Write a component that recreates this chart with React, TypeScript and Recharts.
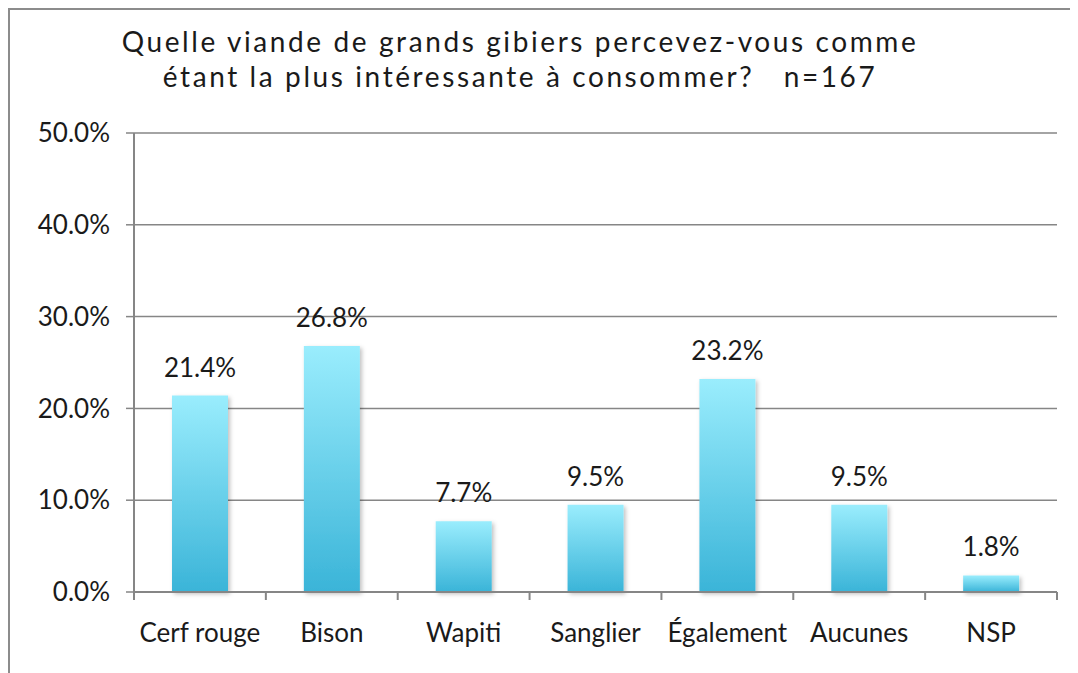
import React from "react";
import { BarChart, Bar, XAxis, YAxis, CartesianGrid, LabelList } from "recharts";

const categories = ["Cerf rouge", "Bison", "Wapiti", "Sanglier", "Également", "Aucunes", "NSP"];
const values = [21.4, 26.8, 7.7, 9.5, 23.2, 9.5, 1.8];
const yTicks = [0, 10, 20, 30, 40, 50];
const titleLines = [
  "Quelle viande de grands gibiers percevez-vous comme",
  "étant la plus intéressante à consommer?   n=167",
];

const data = categories.map((name, i) => ({ name, value: values[i] }));

const FONT = "Lato, 'Open Sans', sans-serif";
const GRID = "#868686";
const TEXT = "#1a1a1a";
const pct = (v: number) => `${Number(v).toFixed(1)}%`;

function CatTick(props: any) {
  const { x, y, payload, index } = props;
  const half = payload.offset ?? 0;
  const axisY = y - 32;
  return (
    <g>
      <line x1={x - half} x2={x - half} y1={axisY} y2={axisY + 8} stroke={GRID} strokeWidth={2} />
      {index === categories.length - 1 && (
        <line x1={x + half} x2={x + half} y1={axisY} y2={axisY + 8} stroke={GRID} strokeWidth={2} />
      )}
      <text x={x} y={y} dy="0.7em" textAnchor="middle" fontSize={26} fill={TEXT} fontFamily={FONT}>
        {payload.value}
      </text>
    </g>
  );
}

export default function App() {
  return (
    <div
      style={{
        position: "relative",
        width: 1070,
        height: 665,
        borderLeft: "2px solid #8c8c8c",
        borderTop: "2px solid #8c8c8c",
        boxSizing: "border-box",
        overflow: "hidden",
        background: "#fff",
        fontFamily: FONT,
      }}
    >
      <div
        style={{
          position: "absolute",
          left: 0,
          top: 14,
          width: 1020,
          textAlign: "center",
          fontSize: 28,
          letterSpacing: 2.6,
          lineHeight: "35px",
          color: TEXT,
          whiteSpace: "pre",
        }}
      >
        {titleLines.map((t) => (
          <div key={t}>{t}</div>
        ))}
      </div>
      <BarChart
        width={1068}
        height={663}
        data={data}
        margin={{ top: 123, right: 21, left: 0, bottom: 21 }}
        barCategoryGap={38}
      >
        <defs>
          <linearGradient id="barGrad" x1="0" y1="0" x2="0" y2="1">
            <stop offset="0%" stopColor="#9aedfd" />
            <stop offset="100%" stopColor="#3ab4d8" />
          </linearGradient>
          <filter id="barShadow" x="-20%" y="-20%" width="150%" height="150%">
            <feDropShadow dx="2" dy="2" stdDeviation="2" floodColor="#000" floodOpacity="0.25" />
          </filter>
        </defs>
        <CartesianGrid vertical={false} stroke={GRID} strokeWidth={1.5} />
        <XAxis
          dataKey="name"
          axisLine={{ stroke: GRID, strokeWidth: 2 }}
          tickLine={false}
          tickSize={8}
          tickMargin={24}
          height={60}
          interval={0}
          tick={<CatTick />}
        />
        <YAxis
          domain={[0, 50]}
          ticks={yTicks}
          tickFormatter={pct}
          width={124}
          axisLine={{ stroke: GRID, strokeWidth: 2 }}
          tickLine={{ stroke: GRID, strokeWidth: 1.5 }}
          tickSize={8}
          tickMargin={16}
          tick={{ fontSize: 26, fill: TEXT, fontFamily: FONT }}
          interval={0}
        />
        <Bar dataKey="value" fill="url(#barGrad)" filter="url(#barShadow)" isAnimationActive={false}>
          <LabelList
            dataKey="value"
            position="top"
            offset={19}
            formatter={(v: any) => pct(v)}
            style={{ fontSize: 26, fill: TEXT, fontFamily: FONT }}
          />
        </Bar>
      </BarChart>
    </div>
  );
}
